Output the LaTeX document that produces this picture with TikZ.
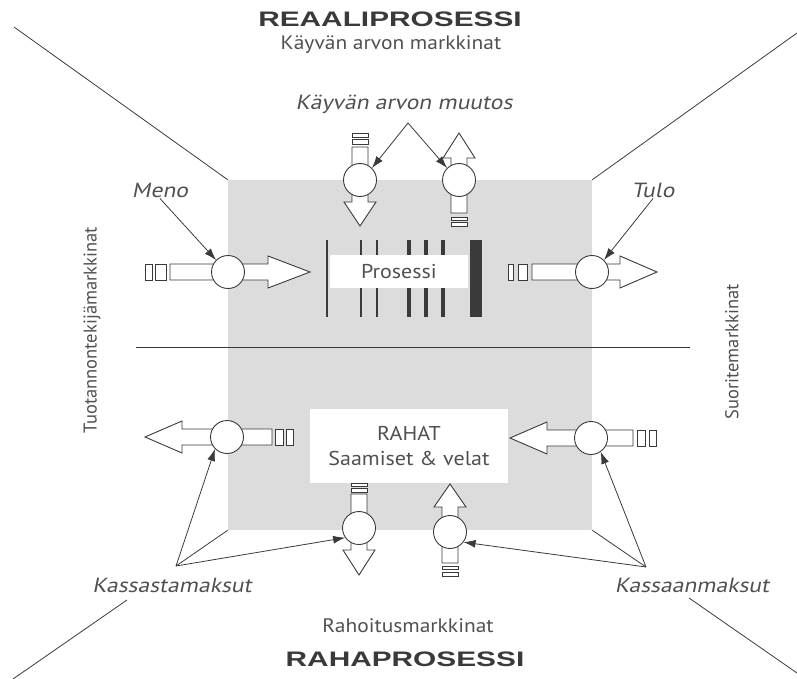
\documentclass[tikz,border=0pt]{standalone}
\usepackage{fontspec}
\setmainfont{PT Sans}
\newfontfamily\mkfont[FakeStretch=1.1]{PT Sans}
\newfontfamily\slfont[FakeSlant=0.2,FakeStretch=1.15]{PT Sans}
\newfontfamily\headfont[FakeStretch=1.42]{Liberation Sans}
\usetikzlibrary{arrows.meta}

\definecolor{ink}{HTML}{3A3A3A}
\definecolor{txt}{HTML}{505050}
\definecolor{poolgray}{HTML}{DCDCDC}

\tikzset{
  valve/.style={circle, draw=ink, fill=white, line width=0.9pt, minimum size=33pt, inner sep=0pt},
  flow/.style={draw=ink, fill=white, line width=0.9pt, line join=miter},
  pointer/.style={ink, line width=0.8pt, -{Latex[length=12pt,width=8pt]}},
  rim/.style={ink, line width=0.8pt},
  lbl/.style={text=txt, font=\slfont\fontsize{20.5}{22}\selectfont, inner sep=1pt},
  market/.style={text=txt, font=\mkfont\fontsize{19.5}{22}\selectfont, inner sep=1pt},
  sidemarket/.style={text=txt, font=\fontsize{18.5}{22}\selectfont, inner sep=1pt, rotate=90},
  headline/.style={text=ink, font=\headfont\bfseries\fontsize{21}{24}\selectfont, inner sep=1pt},
  whitebox/.style={fill=white, inner sep=0pt, text=txt, font=\mkfont\fontsize{20}{25}\selectfont, align=center},
}

% block arrow: tail, head base, tip, axis
\newcommand{\hflow}[4]{\draw[flow] (#1,{#4-8}) -- (#2,{#4-8}) -- (#2,{#4-16}) -- (#3,#4) -- (#2,{#4+16}) -- (#2,{#4+8}) -- (#1,{#4+8}) -- cycle;}
\newcommand{\vflow}[4]{\draw[flow] ({#4-8},#1) -- ({#4-8},#2) -- ({#4-16},#2) -- (#4,#3) -- ({#4+16},#2) -- ({#4+8},#2) -- ({#4+8},#1) -- cycle;}
% small pieces at the tail
\newcommand{\hstub}[3]{\draw[flow] (#1,{#3-8}) rectangle (#2,{#3+8});}
\newcommand{\vstub}[3]{\draw[flow] ({#3-8},#1) rectangle ({#3+8},#2);}

\begin{document}
\begin{tikzpicture}[x=1pt, y=-1pt]
\useasboundingbox (0,0) rectangle (797,679);

\node [fill=poolgray, minimum width=364pt, minimum height=350pt, inner sep=0pt] (pool) at (410,355) {};

% X lines and divider
\coordinate (tl) at (14,27);
\coordinate (tr) at (797,33);
\coordinate (bl1) at (127,600);
\coordinate (bl2) at (13,679);
\coordinate (br1) at (689,598);
\coordinate (br2) at (797,673);
\coordinate (kas) at (176,566);
\coordinate (kan) at (646,567);
\coordinate (dl) at (136,347);
\coordinate (dr) at (690,347);
\draw [rim] (pool.north west) -- (tl);
\draw [rim] (pool.north east) -- (tr);
\draw [rim] (pool.south west) -- (kas);
\draw [rim] (pool.south east) -- (kan);
\draw [rim] (bl1) -- (bl2);
\draw [rim] (br1) -- (br2);
\draw [rim] (dl) -- (dr);

% process
\foreach \x/\w in {327/1.2, 361/1.2, 377/1.2, 409/3.6, 426/3.6, 443/3.6, 476/12}
  \draw [ink, line width=\w pt] (\x,240) -- (\x,317);
\node [whitebox, minimum width=138pt, minimum height=33pt] (proc) at (399,271.5) {Prosessi};
\node [whitebox, minimum width=198pt, minimum height=74pt] (rahat) at (409,446) {RAHAT\\Saamiset \& velat};

% flows
\hflow{170}{268}{310}{272}
\hstub{145}{152}{272}
\hstub{155}{166}{272}
\hflow{532}{620}{657}{272}
\hstub{508}{513}{272}
\hstub{518}{527}{272}
\hflow{272}{182}{145}{437}
\hstub{275}{283}{437}
\hstub{286}{293}{437}
\hflow{633}{547}{510}{438}
\hstub{637}{645}{438}
\hstub{649}{656}{438}
\vflow{147}{202}{226}{360}
\vstub{133}{137}{360}
\vstub{139}{144}{360}
\vflow{213}{158}{133}{459}
\vstub{217}{220}{459}
\vstub{222}{226}{459}
\vflow{494}{550}{575}{359}
\vstub{483}{486}{359}
\vstub{488}{492}{359}
\vflow{563}{507}{484}{450}
\vstub{566}{569}{450}
\vstub{572}{576}{450}

% valves
\node [valve] (v1) at (228,272) {};
\node [valve] (v2) at (592,272) {};
\node [valve] (v3) at (360,180) {};
\node [valve] (v4) at (459,180) {};
\node [valve] (v5) at (227,437) {};
\node [valve] (v6) at (591,438) {};
\node [valve] (v7) at (359,528) {};
\node [valve] (v8) at (450,532) {};

% texts
\node [headline] (reaali) at (390,19) {REAALIPROSESSI};
\node [market] (kam) at (391,45) {Käyvän arvon markkinat};
\node [headline] (raha) at (405,659) {RAHAPROSESSI};
\node [market] (rm) at (408,626) {Rahoitusmarkkinat};
\node [sidemarket] (tm) at (92,330) {Tuotannontekijämarkkinat};
\node [sidemarket] (sm) at (732,352) {Suoritemarkkinat};
\node [lbl] (muutos) at (404,104) {Käyvän arvon muutos};
\node [lbl] (meno) at (160,190) {Meno};
\node [lbl] (tulo) at (653,190) {Tulo};
\node [lbl] (kastl) at (172,585) {Kassastamaksut};
\node [lbl] (kanl) at (692,585) {Kassaanmaksut};
\coordinate (mu) at (408,123);

% pointers
\draw [pointer] (meno.south) -- (v1.135);
\draw [pointer] (tulo.south) -- (v2.45);
\draw [pointer] (mu) -- (v3.45);
\draw [pointer] (mu) -- (v4.135);
\draw [pointer] (kas) -- (v5.225);
\draw [pointer] (kas) -- (v7.215);
\draw [pointer] (kan) -- (v6.305);
\draw [pointer] (kan) -- (v8.323);
\end{tikzpicture}
\end{document}
